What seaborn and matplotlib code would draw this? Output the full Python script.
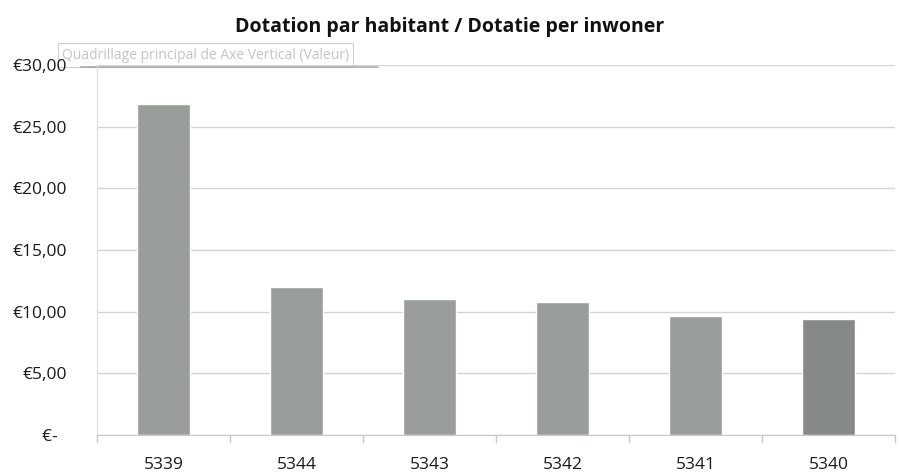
import matplotlib
matplotlib.use("Agg")
import matplotlib.pyplot as plt
import seaborn as sns
import pandas as pd

categories = ["5339", "5344", "5343", "5342", "5341", "5340"]
values = [26.8, 12.0, 11.05, 10.8, 9.65, 9.4]
bar_colors = ["#9a9e9a", "#9a9e9a", "#9a9e9a", "#9a9e9a", "#9a9e9a", "#868a87"]
ytick_vals = [0, 5, 10, 15, 20, 25, 30]
ytick_labels = ["€-  ", "€5,00", "€10,00", "€15,00", "€20,00", "€25,00", "€30,00"]
title = "Dotation par habitant / Dotatie per inwoner"
tooltip = "Quadrillage principal de Axe Vertical (Valeur)"

sns.set_style("white")
plt.rcParams["font.family"] = ["Open Sans", "DejaVu Sans"]

df = pd.DataFrame({"cat": categories, "val": values})

fig = plt.figure(figsize=(8.99, 4.75), dpi=100)
ax = fig.add_axes([0.108, 0.0842, 0.8876, 0.779])
ax.patch.set_visible(False)

sns.barplot(data=df, x="cat", y="val", hue="cat", palette=bar_colors,
            legend=False, width=0.40, ax=ax, saturation=1)

ax.set_ylim(0, 30)
ax.set_xlim(-0.5, len(categories) - 0.5)
ax.set_yticks(ytick_vals)
ax.set_yticklabels(ytick_labels, fontsize=12.5, color="#1a1a1a")
ax.tick_params(axis="x", labelsize=12.5, colors="#1a1a1a", length=0, pad=16)
ax.tick_params(axis="y", length=5, width=1, color="#d4d4d4", pad=17)
ax.yaxis.grid(True, color="#d4d4d4", linewidth=1)
ax.set_axisbelow(True)
ax.set_xlabel("")
ax.set_ylabel("")
for s in ["top", "right"]:
    ax.spines[s].set_visible(False)
ax.spines["left"].set_color("#dddddd")
ax.spines["bottom"].set_color("#c8c8c8")

# category boundary ticks on the x-axis
for b in range(len(categories) + 1):
    ax.plot([b - 0.5, b - 0.5], [0, -0.6], color="#c8c8c8", lw=1, clip_on=False)

fig.text(0.5005, 0.943, title, ha="center", va="center", fontsize=14,
         fontweight="bold", color="#111111")

# UI tooltip captured in the screenshot (drawn behind the axes)
fig.text(0.069, 0.884, tooltip, ha="left", va="center", fontsize=10,
         color="#c4c4c4", zorder=-2,
         bbox=dict(boxstyle="square,pad=0.3", fc="white", ec="#d0d0d0", lw=0.8))
fig.add_artist(plt.Line2D([0.09, 0.42], [0.858, 0.858], color="#a8a8a8",
                          lw=1.2, zorder=-1))

fig.savefig("out.png", dpi=100)
